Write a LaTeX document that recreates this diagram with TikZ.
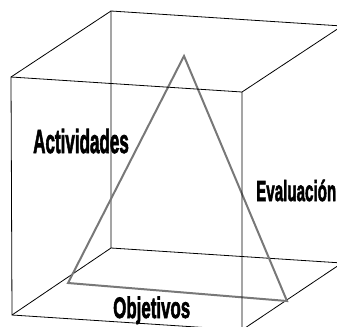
\documentclass[tikz,border=0pt]{standalone}
\usepackage{fontspec}
\setmainfont{Liberation Sans}
\newfontfamily\heavyfont[FakeBold=2.5]{Liberation Sans Bold}
\begin{document}
\begin{tikzpicture}[x=1bp,y=-1bp,
  cubeline/.style={draw=black,line width=0.8bp},
  triline/.style={draw=black!53,line width=2bp,line join=miter},
  lbl/.style={inner sep=0pt,anchor=base west}]
\useasboundingbox (0,0) rectangle (337,327);
\clip (0,0) rectangle (337,327);
% front face
\coordinate (FTL) at (11,77);
\coordinate (FTR) at (242,92);
\coordinate (FBL) at (12,315);
\coordinate (FBR) at (242,330);
% back face
\coordinate (BTL) at (111,11);
\coordinate (BTR) at (342,26);
\coordinate (BBL) at (111,248);
\coordinate (BBR) at (342,263);
% back edges
\draw[cubeline] (BTL) -- (BTR) -- (BBR) -- (BBL) -- cycle;
% connecting edges
\draw[cubeline] (FTL) -- (BTL);
\draw[cubeline] (FTR) -- (BTR);
\draw[cubeline] (FBL) -- (BBL);
\draw[cubeline] (FBR) -- (BBR);
% triangle
\coordinate (TA) at (184,56);
\coordinate (TL) at (68,283);
\coordinate (TR) at (287,301);
\draw[triline] (TA) -- (TL) -- (TR) -- cycle;
% front face
\draw[cubeline] (FTL) -- (FTR) -- (FBR) -- (FBL) -- cycle;
% labels
\node[lbl] (act) at (33,153) {\scalebox{0.57}[1.12]{\heavyfont\fontsize{30}{32}\selectfont Actividades}};
\node[lbl] (eva) at (256,201) {\scalebox{0.585}[1.12]{\heavyfont\fontsize{26}{28}\selectfont Evaluación}};
\node[lbl] (obj) at (113,318) {\scalebox{0.64}[1.12]{\heavyfont\fontsize{26.5}{28}\selectfont Objetivos}};
\end{tikzpicture}
\end{document}
